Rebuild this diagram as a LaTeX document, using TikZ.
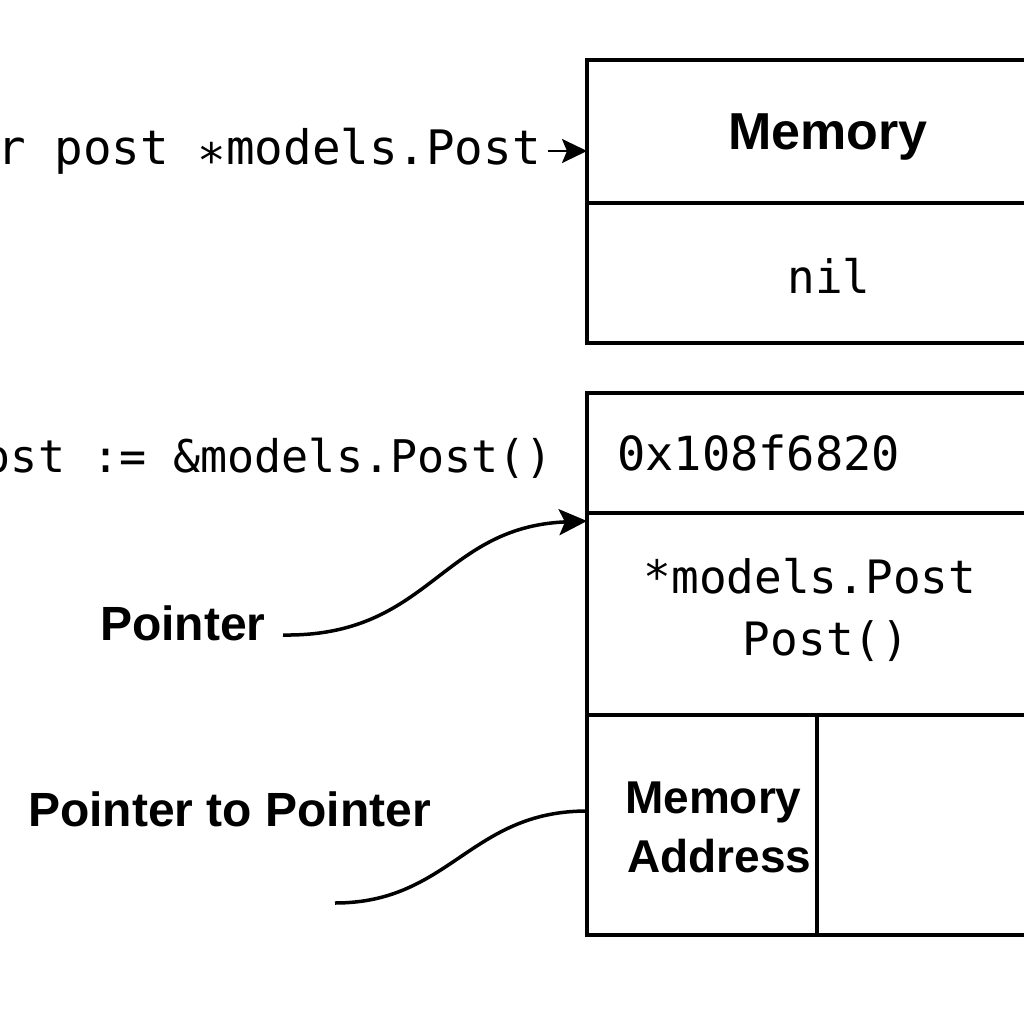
\documentclass[tikz,border=0pt]{standalone}
\usepackage{fontspec}
\setmainfont{Liberation Sans}
\setmonofont{DejaVu Sans Mono}
\usetikzlibrary{arrows.meta}
\begin{document}
\begin{tikzpicture}[x=1pt,y=-1pt,
  cell/.style={draw,line width=3.5pt,rectangle,inner sep=0pt,outer sep=0pt,anchor=north west},
  monotxt/.style={inner sep=0pt,font=\fontsize{46}{55}\selectfont\ttfamily},
  boldtxt/.style={inner sep=0pt,font=\fontsize{48}{58}\selectfont\bfseries},
  conn/.style={line width=3.5pt},
  arr/.style={line width=3.5pt,-{Stealth[length=28pt,width=26pt,inset=6pt]}}]
\useasboundingbox (0,0) rectangle (1024,1024);
\clip (0,0) rectangle (1024,1024);
% top box
\node[cell,minimum width=500pt,minimum height=143pt] (memhead) at (587,60) {};
\node[cell,minimum width=500pt,minimum height=140pt] (memval) at (587,203) {};
\node[boldtxt,font=\fontsize{52}{60}\selectfont\bfseries,anchor=base] (memlbl) at (828,150) {Memory};
\node[monotxt,anchor=base] (nil) at (829,293) {nil};
% bottom box
\node[cell,minimum width=500pt,minimum height=120pt] (addr) at (587,393) {};
\node[cell,minimum width=500pt,minimum height=202pt] (obj) at (587,513) {};
\node[cell,minimum width=230pt,minimum height=220pt] (maddr) at (587,715) {};
\node[cell,minimum width=400pt,minimum height=220pt] (mempty) at (817,715) {};
\node[monotxt,font=\fontsize{47}{56}\selectfont\ttfamily,anchor=base west] (hex) at (617,470) {0x108f6820};
\node[monotxt,anchor=base] (objt1) at (810,593) {*models.Post};
\node[monotxt,anchor=base] (objt2) at (826,655) {Post()};
\node[boldtxt,font=\fontsize{46}{56}\selectfont\bfseries,anchor=base west] (ma1) at (625,813) {Memory};
\node[boldtxt,font=\fontsize{46}{56}\selectfont\bfseries,anchor=base west] (ma2) at (627,872) {Address};
% left texts
\node[monotxt,font=\fontsize{47.5}{57}\selectfont\ttfamily,anchor=base east] (vardecl) at (541,165) {var post \raisebox{-13pt}{*}models.Post};
\node[monotxt,font=\fontsize{45}{54}\selectfont\ttfamily,anchor=base east] (assign) at (553,472) {post := \&models.Post()};
\node[boldtxt,anchor=base west] (ptr) at (100,640) {Pointer};
\node[boldtxt,anchor=base west] (ptrptr) at (28,826) {Pointer to Pointer};
% connectors
\coordinate (a1s) at (548,151);
\draw[line width=2.5pt,-{Stealth[length=25pt,width=24pt,inset=5pt]}] (a1s) -- (memhead.west |- a1s);
\coordinate (c1s) at (283,635);
\coordinate (c1e) at (587,521);
\draw[arr] (c1s) .. controls (430,637) and (440,527) .. (c1e);
\coordinate (c2s) at (335,903);
\coordinate (c2e) at (587,811);
\draw[conn] (c2s) .. controls (450,903) and (470,811) .. (c2e);
\end{tikzpicture}
\end{document}
